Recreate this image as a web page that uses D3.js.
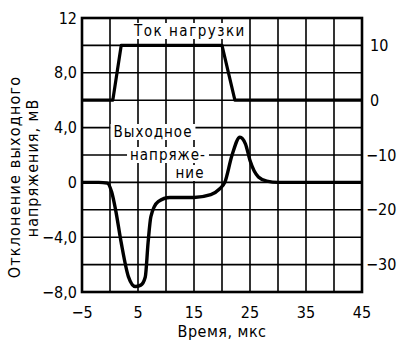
<!DOCTYPE html>
<html><head><meta charset="utf-8">
<script src="https://cdn.jsdelivr.net/npm/d3@7"></script>
<style>body{margin:0;background:#fff}svg{display:block}text{font-family:"DejaVu Sans Condensed","Liberation Sans Narrow","DejaVu Sans",sans-serif;fill:#000}</style>
</head><body>
<script>
// Data
const timeVoltage = [-5,-2,-0.5,0.3,1,2,3.3,4.5,5.5,6.3,6.8,7.3,8.6,10.7,15,18,19.5,20.5,21.8,23.2,24.2,25,26.5,28,30,45];
const voltage     = [0,0,-0.05,-0.7,-2.0,-4.4,-6.9,-7.6,-7.5,-6.9,-4.4,-2.5,-1.4,-1.1,-1.1,-0.9,-0.5,0,2.0,3.3,2.8,1.6,0.4,0.1,0,0];
const timeCurrent = [-5,0.5,2,20,22.3,45];
const current     = [0,0,10,10,0,0];
const xTicks = [-5,5,15,25,35,45];
const yLeftTicks = [12,8,4,0,-4,-8];
const yRightTicks = [10,0,-10,-20,-30];
const xTitle = "Время, мкс";
const yTitle1 = "Отклонение  выходного";
const yTitle2 = "напряжения, мВ";

const W=402,H=353;
const svg=d3.select("body").append("svg").attr("width",W).attr("height",H);
const x=d3.scaleLinear([-5,45],[82,362]);
const yL=d3.scaleLinear([-8,12],[292,18]);
const yR=d3.scaleLinear([-35,15],[292,18]);

// grid
const g=svg.append("g");
g.selectAll(".vg").data(d3.range(-5,46,5)).join("line")
 .attr("x1",d=>x(d)).attr("x2",d=>x(d)).attr("y1",yL(12)).attr("y2",yL(-8))
 .attr("stroke","#000").attr("stroke-width",1.6);
g.selectAll(".hg").data(d3.range(-8,13,2)).join("line")
 .attr("y1",d=>yL(d)).attr("y2",d=>yL(d)).attr("x1",x(-5)).attr("x2",x(45))
 .attr("stroke","#000").attr("stroke-width",1.6);

// labels inside plot with white background
function boxed(txt,cx,cy,ls){
  const t=svg.append("text").attr("x",cx).attr("y",cy).attr("text-anchor","middle")
    .attr("dominant-baseline","central").style("font-size","15px").style("letter-spacing",(ls||1)+"px").text(txt);
  const b=t.node().getBBox();
  svg.insert("rect","text").attr("x",b.x-3).attr("y",b.y+1).attr("width",b.width+6).attr("height",b.height-2).attr("fill","#fff");
  return t;
}

// frame
svg.append("rect").attr("x",x(-5)).attr("y",yL(12)).attr("width",x(45)-x(-5)).attr("height",yL(-8)-yL(12))
 .attr("fill","none").attr("stroke","#000").attr("stroke-width",2.6);

// curves
svg.append("path").datum(timeCurrent.map((t,i)=>[t,current[i]]))
 .attr("d",d3.line().x(d=>x(d[0])).y(d=>yR(d[1])))
 .attr("fill","none").attr("stroke","#000").attr("stroke-width",3.2).attr("stroke-linejoin","round");
svg.append("path").datum(timeVoltage.map((t,i)=>[t,voltage[i]]))
 .attr("d",d3.line().x(d=>x(d[0])).y(d=>yL(d[1])).curve(d3.curveMonotoneX))
 .attr("fill","none").attr("stroke","#000").attr("stroke-width",3.4);

boxed("Ток  нагрузки",190,31,1.5);
boxed("Выходное",153,132,1);
boxed("напряже-",168,155,1);
boxed("ние",190,173,1);

// axes labels
svg.append("g").selectAll("text").data(yLeftTicks).join("text")
 .attr("x",77).attr("y",d=>yL(d)).attr("text-anchor","end").attr("dominant-baseline","central")
 .style("font-size","16px").text(d=>d===0||d===12?String(d).replace("-","−"):d3.format(".1f")(d).replace(".",",").replace("-","−"));
svg.append("g").selectAll("text").data(yRightTicks).join("text")
 .attr("x",d=>d<0?366:370).attr("y",d=>yR(d)).attr("text-anchor","start").attr("dominant-baseline","central")
 .style("font-size","16px").text(d=>String(d).replace("-","−"));
svg.append("g").selectAll("text").data(xTicks).join("text")
 .attr("x",d=>x(d)).attr("y",312).attr("text-anchor","middle").attr("dominant-baseline","central")
 .style("font-size","16px").text(d=>String(d).replace("-","−"));

svg.append("text").attr("x",222).attr("y",331).attr("text-anchor","middle").attr("dominant-baseline","central")
 .style("font-size","16px").style("letter-spacing","0.5px").text(xTitle);
svg.append("text").attr("transform","translate(14,177) rotate(-90)").attr("text-anchor","middle").attr("dominant-baseline","central")
 .style("font-size","16px").style("letter-spacing","1.2px").text(yTitle1);
svg.append("text").attr("transform","translate(32,168) rotate(-90)").attr("text-anchor","middle").attr("dominant-baseline","central")
 .style("font-size","16px").style("letter-spacing","1px").text(yTitle2);
</script>
</body></html>
